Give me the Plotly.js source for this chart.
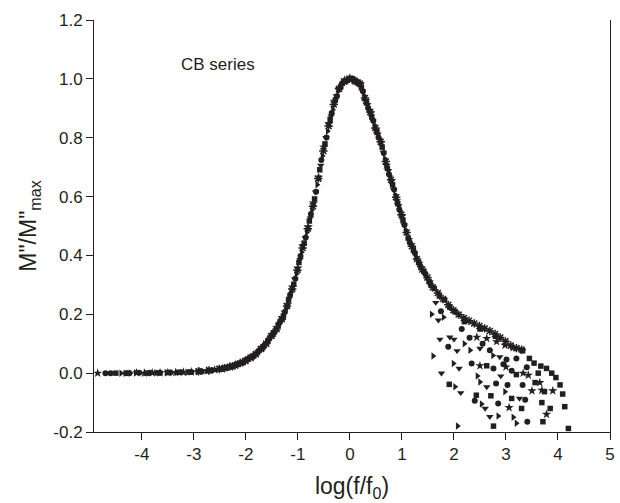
<!DOCTYPE html>
<html>
<head>
<meta charset="utf-8">
<script src="https://cdn.plot.ly/plotly-3.0.1.min.js"></script>
<style>html,body{margin:0;padding:0;background:#fff;}</style>
</head>
<body>
<div id="chart" style="width:620px;height:503px;"></div>
<script>
// ---- data ----
const xStar = [-4.85,-4.10,-3.95,-3.80,-3.65,-3.50,-3.35,-3.20,-3.05,-2.90,-2.75,-2.60,-2.45,
  -2.30,-2.20,-2.10,-2.00,-1.90,-1.80,-1.70,-1.60,-1.50,-1.40,-1.30,-1.20,-1.10,-1.00,-0.90,-0.80,-0.70,-0.60,-0.50,-0.40,-0.30,-0.20,-0.10,0.00,0.10,0.20,0.30,0.40,0.50,0.60,0.70,0.80,0.90,1.00,
  2.44,2.63,2.82,2.98,3.14,3.06,3.65,3.69,3.78,2.50,3.00,3.33,3.43,3.90,3.50];
const yStar = [0.000,0.001,0.000,0.001,0.001,0.002,0.002,0.003,0.004,0.006,0.008,0.011,0.015,
  0.021,0.028,0.035,0.044,0.052,0.067,0.085,0.101,0.130,0.153,0.188,0.232,0.293,0.357,0.434,0.497,0.578,0.666,0.768,0.848,0.924,0.967,0.996,1.002,0.992,0.983,0.926,0.884,0.826,0.784,0.706,0.654,0.586,0.534,
  0.122,0.118,0.107,0.095,0.087,-0.117,-0.032,-0.058,-0.140,0.025,0.021,0.000,-0.007,-0.060,-0.060];

const xCircle = [-4.70,-4.60,-4.30,-4.05,-3.85,-3.65,-3.45,-3.25,-3.05,-2.85,-2.65,-2.45,
  -2.35,-2.25,-2.15,-2.05,-1.95,-1.85,-1.75,-1.65,-1.55,-1.45,-1.35,-1.25,-1.15,-1.05,-0.95,-0.85,-0.75,-0.65,-0.55,-0.45,-0.35,-0.25,-0.15,-0.05,0.05,0.15,0.25,0.35,0.45,0.55,0.65,0.75,0.85,0.95,1.05,1.15,1.25,1.35,1.45,1.55,
  1.89,2.40,2.81,2.85,3.03,3.32,3.37,3.41,2.34,2.76,3.11,2.69,3.01,1.75,2.15,2.30,2.55,2.95,3.20,3.40];
const yCircle = [0.000,0.000,0.000,0.001,0.001,0.001,0.002,0.003,0.004,0.006,0.010,0.015,
  0.020,0.023,0.031,0.037,0.049,0.058,0.076,0.091,0.117,0.139,0.172,0.208,0.266,0.321,0.398,0.461,0.541,0.616,0.724,0.801,0.884,0.941,0.985,0.994,1.001,0.985,0.958,0.901,0.858,0.801,0.748,0.676,0.624,0.556,0.503,0.444,0.408,0.364,0.338,0.302,
  0.090,-0.094,-0.035,-0.103,-0.040,-0.040,-0.090,-0.165,0.033,0.016,0.008,0.078,0.046,0.210,0.150,0.120,0.100,0.030,0.050,0.020];

const xSquare = [-4.50,-4.25,-3.88,-3.68,-3.48,-3.28,-3.08,-2.88,-2.68,-2.48,
  -2.38,-2.28,-2.18,-2.08,-1.98,-1.88,-1.78,-1.68,-1.58,-1.48,-1.38,-1.28,-1.18,-1.08,-0.98,-0.88,-0.78,-0.68,-0.58,-0.48,-0.38,-0.28,-0.18,-0.08,0.02,0.12,0.22,0.32,0.42,0.52,0.62,0.72,0.82,0.92,1.02,1.12,1.22,1.32,1.42,1.52,1.62,1.72,1.82,1.92,2.02,
  1.91,2.43,2.71,2.76,3.11,3.56,3.62,3.69,3.74,3.71,3.32,3.45,3.54,3.67,3.78,3.88,3.96,4.04,4.09,4.13,4.20,2.63,3.20,2.20,2.50,2.80,3.30,3.85];
const ySquare = [0.000,0.000,0.000,0.001,0.002,0.003,0.004,0.006,0.009,0.014,
  0.018,0.022,0.029,0.035,0.046,0.055,0.070,0.086,0.109,0.132,0.163,0.194,0.248,0.302,0.376,0.442,0.517,0.592,0.691,0.779,0.862,0.928,0.972,0.993,0.999,0.991,0.972,0.918,0.872,0.818,0.768,0.696,0.640,0.576,0.520,0.459,0.419,0.376,0.346,0.312,0.288,0.262,0.249,0.224,0.209,
  -0.038,-0.075,-0.077,-0.180,-0.086,-0.032,0.000,-0.100,-0.063,-0.165,0.076,0.050,0.034,0.024,0.016,0.000,-0.015,-0.040,-0.071,-0.114,-0.188,0.025,-0.005,0.175,0.150,0.125,-0.120,-0.120];

const xTriRight = [-4.40,-4.32,-4.22,-4.12,-3.93,-3.73,-3.53,-3.33,-3.13,-2.93,-2.73,-2.53,
  -2.43,-2.33,-2.23,-2.13,-2.03,-1.93,-1.83,-1.73,-1.63,-1.53,-1.43,-1.33,-1.23,-1.13,-1.03,-0.93,-0.83,-0.73,-0.63,-0.53,-0.43,-0.33,-0.23,-0.13,-0.03,0.07,0.17,0.27,0.37,0.47,0.57,0.67,0.77,0.87,0.97,1.07,1.17,1.27,1.37,1.47,
  1.57,1.60,1.99,2.02,2.07,2.50,2.53,2.85,2.98,3.14,3.20,2.31,1.80,2.20,2.45,2.75];
const yTriRight = [0.000,0.000,0.000,0.001,0.001,0.001,0.002,0.003,0.003,0.005,0.009,0.014,
  0.016,0.020,0.026,0.031,0.041,0.049,0.063,0.077,0.098,0.121,0.146,0.178,0.219,0.275,0.337,0.411,0.478,0.554,0.640,0.738,0.822,0.895,0.957,0.984,0.999,0.996,0.986,0.943,0.897,0.843,0.797,0.729,0.670,0.606,0.550,0.486,0.441,0.395,0.363,0.327,
  0.200,0.058,0.033,-0.046,-0.180,-0.030,-0.105,-0.146,-0.063,-0.150,-0.170,0.078,0.190,0.100,-0.010,0.060];

const xTriDown = [-3.06,-2.86,-2.66,
  -2.56,-2.46,-2.36,-2.26,-2.16,-2.06,-1.96,-1.86,-1.76,-1.66,-1.56,-1.46,-1.36,-1.26,-1.16,-1.06,-0.96,-0.86,-0.76,-0.66,-0.56,-0.46,-0.36,-0.26,-0.16,-0.06,0.04,0.14,0.24,0.34,0.44,0.54,0.64,0.74,0.84,0.94,1.04,1.14,1.24,1.34,1.44,1.54,
  1.70,1.73,1.76,1.92,2.00,2.06,2.10,2.13,2.63,2.69,3.26,2.50,2.88,1.65,2.60,2.90];
const yTriDown = [0.004,0.006,0.010,
  0.012,0.015,0.019,0.024,0.029,0.039,0.046,0.059,0.072,0.093,0.112,0.141,0.166,0.207,0.255,0.320,0.386,0.460,0.528,0.615,0.706,0.800,0.873,0.942,0.978,0.997,0.997,0.990,0.958,0.912,0.858,0.812,0.750,0.688,0.624,0.568,0.504,0.454,0.407,0.373,0.336,0.310,
  0.180,0.115,0.000,0.122,0.115,0.076,0.016,-0.067,-0.047,-0.148,-0.086,0.084,0.055,0.240,-0.120,-0.010];

const xAster = [-2.91,-2.71,
  -2.51,-2.41,-2.31,-2.21,-2.11,-2.01,-1.91,-1.81,-1.71,-1.61,-1.51,-1.41,-1.31,-1.21,-1.11,-1.01,-0.91,-0.81,-0.71,-0.61,-0.51,-0.41,-0.31,-0.21,-0.11,-0.01,0.09,0.19,0.29,0.39,0.49,0.59,0.69,0.79,0.89,0.99,1.09,1.19,1.29,1.39,1.49,1.59,
  1.69,1.79,1.89,1.99,2.09,2.19,2.29,2.39,2.49,2.59,2.69,2.79,2.89,2.99,3.09,3.20,3.30];
const yAster = [0.006,0.009,
  0.014,0.017,0.022,0.026,0.034,0.041,0.053,0.064,0.082,0.100,0.126,0.150,0.183,0.228,0.286,0.350,0.425,0.491,0.567,0.661,0.755,0.840,0.913,0.966,0.990,1.000,0.994,0.984,0.935,0.887,0.833,0.786,0.719,0.657,0.598,0.538,0.478,0.431,0.388,0.352,0.325,0.292,
  0.272,0.252,0.232,0.214,0.199,0.187,0.178,0.169,0.160,0.152,0.143,0.133,0.121,0.108,0.094,0.085,0.080];

const xTickVals = [-4,-3,-2,-1,0,1,2,3,4,5];
const xTickText = ['-4','-3','-2','-1','0','1','2','3','4','5'];
const yTickVals = [-0.2,0,0.2,0.4,0.6,0.8,1.0,1.2];
const yTickText = ['-0.2','0.0','0.2','0.4','0.6','0.8','1.0','1.2'];

const ink = '#231f20';
function series(x, y, symbol, size, extra) {
  const m = Object.assign({symbol: symbol, size: size, color: ink, line: {width: 0, color: ink}}, extra || {});
  return {x: x, y: y, type: 'scatter', mode: 'markers', marker: m, hoverinfo: 'skip', cliponaxis: true};
}

const traces = [
  series(xStar, yStar, 'star', 7),
  series(xCircle, yCircle, 'circle', 6),
  series(xSquare, ySquare, 'square', 5.5),
  series(xTriRight, yTriRight, 'triangle-right', 6.5),
  series(xTriDown, yTriDown, 'triangle-down', 6.5),
  series(xAster, yAster, 'asterisk-open', 7, {line: {width: 1.5, color: ink}})
];

const axisCommon = {
  showgrid: false, zeroline: false, showline: true, linecolor: ink, linewidth: 1,
  ticks: 'outside', ticklen: 7, tickwidth: 1, tickcolor: ink,
  tickfont: {size: 17, color: ink, family: 'Liberation Sans, Arial, sans-serif'}
};

const layout = {
  width: 620, height: 503,
  margin: {l: 94, r: 10, t: 20, b: 71, pad: 0},
  paper_bgcolor: '#ffffff', plot_bgcolor: '#ffffff',
  showlegend: false,
  font: {family: 'Liberation Sans, Arial, sans-serif', color: ink},
  xaxis: Object.assign({}, axisCommon, {
    range: [-4.92, 5], tickmode: 'array', tickvals: xTickVals, ticktext: xTickText,
    automargin: false,
    title: {text: 'log(f/f<sub>0</sub>)', font: {size: 23, color: ink}, standoff: 14}
  }),
  yaxis: Object.assign({}, axisCommon, {
    range: [-0.2, 1.2], tickmode: 'array', tickvals: yTickVals, ticktext: yTickText,
    mirror: true, automargin: false,
    title: {text: 'M"/M"<sub>max</sub>', font: {size: 23, color: ink}, standoff: 10}
  }),
  annotations: [{
    text: 'CB series', xref: 'x', yref: 'y', x: -2.54, y: 1.048,
    showarrow: false, font: {size: 17, color: ink}, xanchor: 'center', yanchor: 'middle'
  }]
};

Plotly.newPlot('chart', traces, layout, {staticPlot: true, displayModeBar: false});
</script>
</body>
</html>
